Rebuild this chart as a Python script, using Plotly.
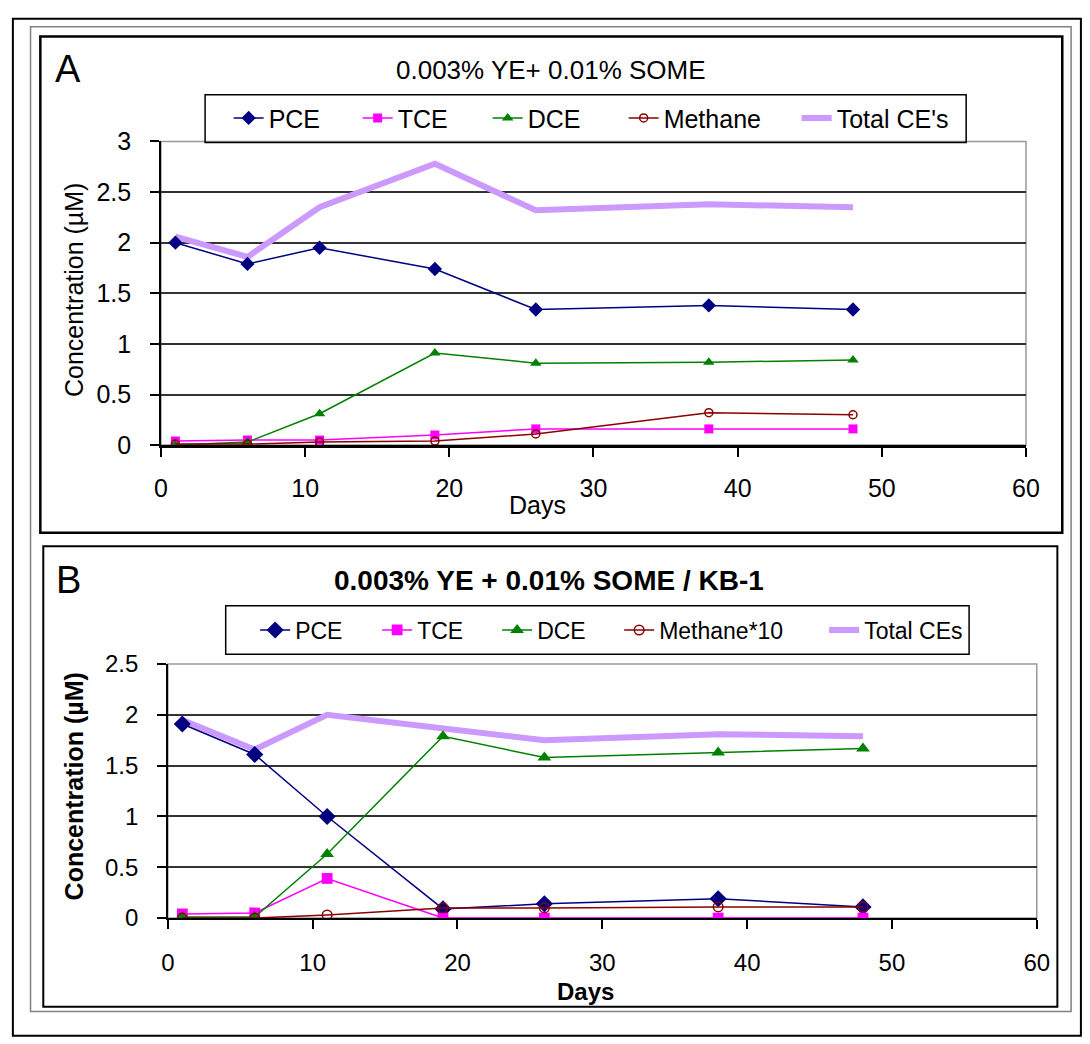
import plotly.graph_objects as go

W, H = 1090, 1044

# ---------------- data ----------------
days = [1, 6, 11, 19, 26, 38, 48]

a_pce = [2.00, 1.79, 1.95, 1.74, 1.34, 1.38, 1.34]
a_tce = [0.04, 0.05, 0.05, 0.10, 0.16, 0.16, 0.16]
a_dce = [0.00, 0.03, 0.31, 0.91, 0.81, 0.82, 0.84]
a_methane = [0.01, 0.01, 0.03, 0.04, 0.11, 0.32, 0.30]
a_total = [2.06, 1.86, 2.35, 2.78, 2.32, 2.38, 2.35]

b_pce = [1.91, 1.61, 1.00, 0.09, 0.14, 0.19, 0.11]
b_tce = [0.04, 0.05, 0.39, 0.00, 0.00, 0.00, 0.00]
b_dce = [0.01, 0.01, 0.63, 1.79, 1.58, 1.63, 1.67]
b_methane10 = [0.00, 0.00, 0.03, 0.10, 0.10, 0.11, 0.11]
b_total = [1.95, 1.66, 2.00, 1.86, 1.75, 1.81, 1.79]

names_a = ["PCE", "TCE", "DCE", "Methane", "Total CE's"]
names_b = ["PCE", "TCE", "DCE", "Methane*10", "Total CEs"]
title_a = "0.003% YE+ 0.01% SOME"
title_b = "<b>0.003% YE + 0.01% SOME / KB-1</b>"
x_ticks = [0, 10, 20, 30, 40, 50, 60]

FONT = "Liberation Sans, Arial, sans-serif"
C_PCE, C_TCE, C_DCE, C_MET, C_TOT = "#000080", "#FF00FF", "#008000", "#8B0000", "#CC99FF"


def px(x):
    return x / W


def py(y):
    return 1 - y / H


fig = go.Figure()


def add_panel(xa, ya, leg, vals, names, widths, big):
    pce, tce, dce, met, tot = vals
    s = 1.2 if big else 1.0
    fig.add_trace(go.Scatter(x=days, y=tot, name=names[4], mode="lines",
                             line=dict(color=C_TOT, width=6), xaxis=xa, yaxis=ya,
                             legend=leg, legendrank=5, legendwidth=widths[4]))
    fig.add_trace(go.Scatter(x=days, y=pce, name=names[0], mode="lines+markers",
                             line=dict(color=C_PCE, width=1.5),
                             marker=dict(symbol="diamond", size=11 * s, color=C_PCE),
                             xaxis=xa, yaxis=ya, legend=leg, legendrank=1, legendwidth=widths[0]))
    fig.add_trace(go.Scatter(x=days, y=tce, name=names[1], mode="lines+markers",
                             line=dict(color=C_TCE, width=1.5),
                             marker=dict(symbol="square", size=9 * s, color=C_TCE),
                             xaxis=xa, yaxis=ya, legend=leg, legendrank=2, legendwidth=widths[1]))
    fig.add_trace(go.Scatter(x=days, y=dce, name=names[2], mode="lines+markers",
                             line=dict(color=C_DCE, width=1.5),
                             marker=dict(symbol="triangle-up", size=10 * s, color=C_DCE),
                             xaxis=xa, yaxis=ya, legend=leg, legendrank=3, legendwidth=widths[2]))
    fig.add_trace(go.Scatter(x=days, y=met, name=names[3], mode="lines+markers",
                             line=dict(color=C_MET, width=1.5),
                             marker=dict(symbol="circle-open", size=8 * s, color=C_MET,
                                         line=dict(width=1.5, color=C_MET)),
                             xaxis=xa, yaxis=ya, legend=leg, legendrank=4, legendwidth=widths[3]))


add_panel("x", "y", "legend", [a_pce, a_tce, a_dce, a_methane, a_total], names_a,
          [84, 85, 91, 128, 130], False)
add_panel("x2", "y2", "legend2", [b_pce, b_tce, b_dce, b_methane10, b_total], names_b,
          [77, 75, 77, 160, 105], True)

axis_common = dict(showline=True, linecolor="black", ticks="outside", tickcolor="black",
                   tickwidth=1.5, ticklen=9, zeroline=False, fixedrange=True)

fig.update_layout(
    width=W, height=H, autosize=False,
    margin=dict(l=0, r=0, t=0, b=0, pad=0),
    paper_bgcolor="white", plot_bgcolor="white",
    font=dict(family=FONT, color="black"),
    xaxis=dict(domain=[px(157), px(1039)], range=[0, 60], tickvals=x_ticks, anchor="y",
               showgrid=False, linewidth=3, tickfont=dict(size=25), ticklabelstandoff=10,
               **axis_common),
    yaxis=dict(domain=[py(443), py(131)], range=[0, 3], dtick=0.5, anchor="x",
               showgrid=True, gridcolor="#333333", gridwidth=1.5, linewidth=1.5,
               tickfont=dict(size=25), ticklabelstandoff=14, **axis_common),
    xaxis2=dict(domain=[px(164), px(1050)], range=[0, 60], tickvals=x_ticks, anchor="y2",
                showgrid=False, linewidth=2, tickfont=dict(size=24), ticklabelstandoff=13,
                **axis_common),
    yaxis2=dict(domain=[py(929), py(668)], range=[0, 2.5], dtick=0.5, anchor="x2",
                showgrid=True, gridcolor="#333333", gridwidth=1.5, linewidth=1.5,
                tickfont=dict(size=24), ticklabelstandoff=14, **axis_common),
    legend=dict(orientation="h", x=px(226), xanchor="left", y=py(107), yanchor="middle",
                bgcolor="rgba(0,0,0,0)", borderwidth=0, font=dict(size=25, family=FONT),
                traceorder="normal"),
    legend2=dict(orientation="h", x=px(253), xanchor="left", y=py(633), yanchor="middle",
                 bgcolor="rgba(0,0,0,0)", borderwidth=0, font=dict(size=23, family=FONT),
                 traceorder="normal"),
    showlegend=True,
)

shapes = [
    # outer frames
    dict(type="rect", xref="paper", yref="paper", x0=px(6), x1=px(1095), y0=py(1050), y1=py(5),
         line=dict(color="black", width=2)),
    dict(type="rect", xref="paper", yref="paper", x0=px(24), x1=px(1085), y0=py(1025), y1=py(13),
         line=dict(color="#808080", width=1.5)),
    dict(type="rect", xref="paper", yref="paper", x0=px(34), x1=px(1076), y0=py(533), y1=py(23),
         line=dict(color="black", width=2.5)),
    dict(type="rect", xref="paper", yref="paper", x0=px(37), x1=px(1071), y0=py(1020), y1=py(547),
         line=dict(color="black", width=2)),
    # legend boxes
    dict(type="rect", xref="paper", yref="paper", x0=px(202), x1=px(978), y0=py(132), y1=py(83),
         line=dict(color="black", width=1.5)),
    dict(type="rect", xref="paper", yref="paper", x0=px(223), x1=px(981), y0=py(658), y1=py(608),
         line=dict(color="black", width=1.5)),
    # plot area frames (gray)
    dict(type="rect", xref="x domain", yref="y domain", x0=0, x1=1, y0=0, y1=1,
         line=dict(color="#999999", width=1.5), layer="below"),
    dict(type="rect", xref="x2 domain", yref="y2 domain", x0=0, x1=1, y0=0, y1=1,
         line=dict(color="#999999", width=1.5), layer="below"),
]
fig.update_layout(shapes=shapes)

ann = [
    dict(text="A", x=px(62), y=py(57), font=dict(size=38)),
    dict(text="B", x=px(63), y=py(582), font=dict(size=38)),
    dict(text=title_a, x=px(555), y=py(58), font=dict(size=26)),
    dict(text=title_b, x=px(553), y=py(582), font=dict(size=28)),
    dict(text="Concentration (µM)", x=px(69), y=py(284), textangle=-90, font=dict(size=25)),
    dict(text="<b>Concentration (µM)</b>", x=px(68), y=py(794), textangle=-90, font=dict(size=25)),
    dict(text="Days", x=px(541), y=py(505), font=dict(size=25)),
    dict(text="<b>Days</b>", x=px(590), y=py(1004), font=dict(size=24)),
]
for a in ann:
    a.update(xref="paper", yref="paper", showarrow=False, xanchor="center", yanchor="middle")
    a["font"].update(family=FONT, color="black")
fig.update_layout(annotations=ann)

fig.write_html("out.html", config={"displayModeBar": False},
               post_script="document.body.style.margin='0';")
